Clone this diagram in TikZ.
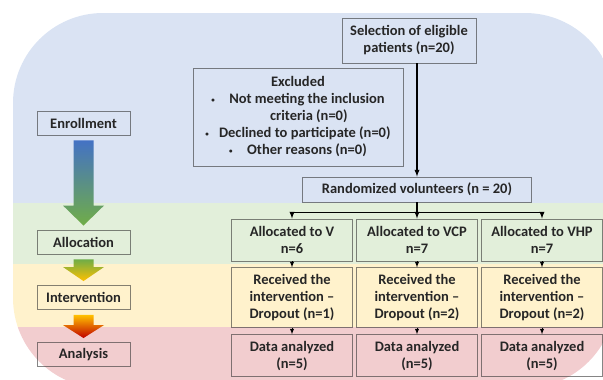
\documentclass[tikz,border=0pt]{standalone}
\usepackage{fontspec}
\setmainfont{Carlito}
\usetikzlibrary{positioning,calc,arrows}
\definecolor{bandblue}{HTML}{DAE3F3}
\definecolor{bandgreen}{HTML}{E2EFDA}
\definecolor{bandyellow}{HTML}{FFF2CC}
\definecolor{bandred}{HTML}{F2CDCF}
\definecolor{arrblue}{HTML}{4472C4}
\definecolor{arrgreen}{HTML}{70AD47}
\definecolor{arrgold}{HTML}{FFC000}
\definecolor{arrred}{HTML}{C00000}
\tikzset{
  basic/.style = {draw=black!80, draw opacity=0.6, line width=0.9pt, text=black!85,
                  align=center, inner sep=2pt, font=\fontsize{14.5}{17}\selectfont\bfseries},
  stage/.style = {basic, minimum width=93pt, minimum height=24pt},
  group/.style = {basic, minimum width=121pt},
  link/.style  = {->, line width=1.3pt},
  short/.style = {->, line width=0.9pt}
}
\newcommand{\dotitem}{\raisebox{0.25ex}{\fontsize{7}{7}\selectfont\textbullet}}
% gradient arrow between two stage boxes: from, to, top colour, bottom colour, head length
\newcommand{\stagearrow}[5]{%
  \shade[top color=#3, bottom color=#4]
    ($(#1.south)+(-10,5)$) -- ($(#1.south)+(10,5)$)
    -- ($(#2.north)+(10,-4-#5)$) -- ($(#2.north)+(20.5,-4-#5)$)
    -- ($(#2.north)+(0,-4)$) -- ($(#2.north)+(-20.5,-4-#5)$)
    -- ($(#2.north)+(-10,-4-#5)$) -- cycle;}

\begin{document}
\begin{tikzpicture}[x=1pt, y=-1pt, >=latex]
\useasboundingbox (0,0) rectangle (603,380);

% background bands inside the rounded frame
\begin{scope}
\clip[rounded corners=90pt] (13,13) rectangle (615,388);
\fill[bandblue]   (0,0)   rectangle (620,203);
\fill[bandgreen]  (0,203) rectangle (620,264);
\fill[bandyellow] (0,264) rectangle (620,327);
\fill[bandred]    (0,327) rectangle (620,400);
\end{scope}

% stages on the left
\node[stage] (enroll) at (83.5,123)   {Enrollment};
\node[stage] (alloc)  at (83.5,242)   {Allocation};
\node[stage] (interv) at (83.5,297.5) {Intervention};
\node[stage] (anal)   at (83.5,354.5) {Analysis};

\stagearrow{enroll}{alloc}{arrblue}{arrgreen}{20}
\stagearrow{alloc}{interv}{arrgreen}{arrgold}{14}
\stagearrow{interv}{anal}{arrgold}{arrred}{13}

% enrollment
\node[basic, minimum width=134pt, minimum height=45pt] (sel) at (409,40.5)
  {Selection of eligible\\patients (n=20)};
\node[basic, minimum width=210pt, minimum height=98pt] (excl) at (298,117)
  {Excluded\\
   \dotitem\hspace{1em}Not meeting the inclusion\\
   \hspace{1.5em}criteria (n=0)\\
   \dotitem\hspace{0.7em}Declined to participate (n=0)\\
   \dotitem\hspace{1em}Other reasons (n=0)};
\node[basic, minimum width=229pt, minimum height=25pt] (rand) at (417,189.5)
  {Randomized volunteers (n = 20)};

% allocation
\node[group, minimum height=42pt] (v)   at (292,240) {Allocated to V\\n=6};
\node[group, minimum height=42pt] (vcp) at (417,240) {Allocated to VCP\\n=7};
\node[group, minimum height=42pt] (vhp) at (542,240) {Allocated to VHP\\n=7};

% intervention
\node[group, minimum height=60pt, below=6pt of v]   (v2)   {Received the\\intervention --\\Dropout (n=1)};
\node[group, minimum height=60pt, below=6pt of vcp] (vcp2) {Received the\\intervention --\\Dropout (n=2)};
\node[group, minimum height=60pt, below=6pt of vhp] (vhp2) {Received the\\intervention --\\Dropout (n=2)};

% analysis
\node[group, minimum height=42pt, below=6pt of v2]   (v3)   {Data analyzed\\(n=5)};
\node[group, minimum height=42pt, below=6pt of vcp2] (vcp3) {Data analyzed\\(n=5)};
\node[group, minimum height=42pt, below=6pt of vhp2] (vhp3) {Data analyzed\\(n=5)};

% connectors
\draw[link] (rand.north |- sel.south) -- (rand.north);
\coordinate (split) at ($(rand.south)+(0,10)$);
\draw[line width=1.3pt] (rand.south) -- (split);
\draw[link] (split) -| (v.north);
\draw[link] (split) -| (vhp.north);
\draw[link] (split) -- (vcp.north);

\foreach \c in {v,vcp,vhp} {
  \draw[short] (\c.south) -- (\c2.north);
  \draw[short] (\c2.south) -- (\c3.north);
}

\end{tikzpicture}
\end{document}
